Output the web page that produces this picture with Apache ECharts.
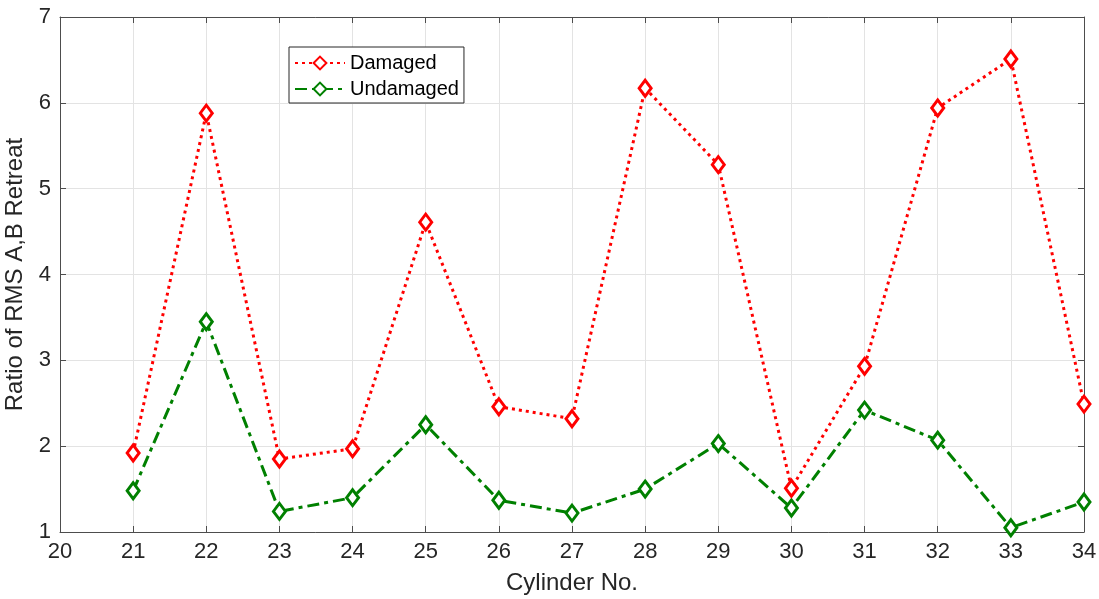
<!DOCTYPE html>
<html>
<head>
<meta charset="utf-8">
<script src="https://cdn.jsdelivr.net/npm/echarts@6/dist/echarts.min.js"></script>
<style>html,body{margin:0;padding:0;background:#fff;}#c{width:1099px;height:599px;}</style>
</head>
<body>
<div id="c"></div>
<script>
const cylinders = [21, 22, 23, 24, 25, 26, 27, 28, 29, 30, 31, 32, 33, 34];
const damaged = [1.92, 5.88, 1.85, 1.97, 4.61, 2.46, 2.32, 6.17, 5.28, 1.51, 2.93, 5.94, 6.51, 2.49];
const undamaged = [1.48, 3.45, 1.24, 1.40, 2.25, 1.37, 1.22, 1.50, 2.03, 1.28, 2.42, 2.07, 1.05, 1.35];
const xTicks = [20, 21, 22, 23, 24, 25, 26, 27, 28, 29, 30, 31, 32, 33, 34];
const yTicks = [1, 2, 3, 4, 5, 6, 7];

const FONT = 'Liberation Sans';
const axisCol = '#262626';
const chart = echarts.init(document.getElementById('c'), null, {renderer: 'canvas'});
const base = {
  axisLine: {show: true, lineStyle: {color: '#4d4d4d', width: 1}},
  axisTick: {show: true, inside: true, length: 6, lineStyle: {color: '#4d4d4d'}},
};
chart.setOption({
  animation: false,
  backgroundColor: '#fff',
  grid: {left: 60, right: 15, top: 17, bottom: 67, containLabel: false, outerBoundsMode: 'none'},
  legend: {
    left: 289, top: 47,
    orient: 'vertical',
    backgroundColor: '#fff',
    borderColor: '#262626', borderWidth: 1,
    padding: [6, 5, 4, 5],
    itemGap: 6,
    itemWidth: 50, itemHeight: 16,
    textStyle: {fontFamily: FONT, fontSize: 20, color: '#000'},
    data: ['Damaged', 'Undamaged']
  },
  xAxis: [{
    type: 'value', min: 20, max: 34, interval: 1,
    name: 'Cylinder No.', nameLocation: 'middle', nameGap: 39,
    nameTextStyle: {fontFamily: FONT, fontSize: 24, color: axisCol},
    axisLabel: {fontFamily: FONT, fontSize: 22, color: axisCol, margin: 9,
      formatter: v => xTicks.includes(v) ? String(v) : ''},
    splitLine: {show: true, lineStyle: {color: '#e3e3e3', width: 1}},
    ...base
  }, {
    type: 'value', min: 20, max: 34, interval: 1, position: 'top',
    axisLabel: {show: false}, splitLine: {show: false}, ...base
  }],
  yAxis: [{
    type: 'value', min: 1, max: 7, interval: 1,
    name: 'Ratio of RMS A,B Retreat', nameLocation: 'middle', nameGap: 27,
    nameTextStyle: {fontFamily: FONT, fontSize: 24, color: axisCol},
    axisLabel: {fontFamily: FONT, fontSize: 22, color: axisCol, margin: 9,
      formatter: v => yTicks.includes(v) ? String(v) : ''},
    splitLine: {show: true, lineStyle: {color: '#e3e3e3', width: 1}},
    ...base
  }, {
    type: 'value', min: 1, max: 7, interval: 1, position: 'right',
    axisLabel: {show: false}, splitLine: {show: false}, ...base
  }],
  series: [{
    name: 'Damaged', type: 'line',
    data: cylinders.map((c, i) => [c, damaged[i]]),
    symbol: 'diamond', symbolSize: [12, 16], showAllSymbol: true,
    lineStyle: {color: '#ff0000', width: 3, type: [3, 4]},
    itemStyle: {color: '#ffffff', borderColor: '#ff0000', borderWidth: 3},
    z: 3
  }, {
    name: 'Undamaged', type: 'line',
    data: cylinders.map((c, i) => [c, undamaged[i]]),
    symbol: 'diamond', symbolSize: [12, 16], showAllSymbol: true,
    lineStyle: {color: '#008000', width: 3, type: [12, 5, 4, 5]},
    itemStyle: {color: '#ffffff', borderColor: '#008000', borderWidth: 3},
    z: 2
  }]
});
</script>
</body>
</html>
